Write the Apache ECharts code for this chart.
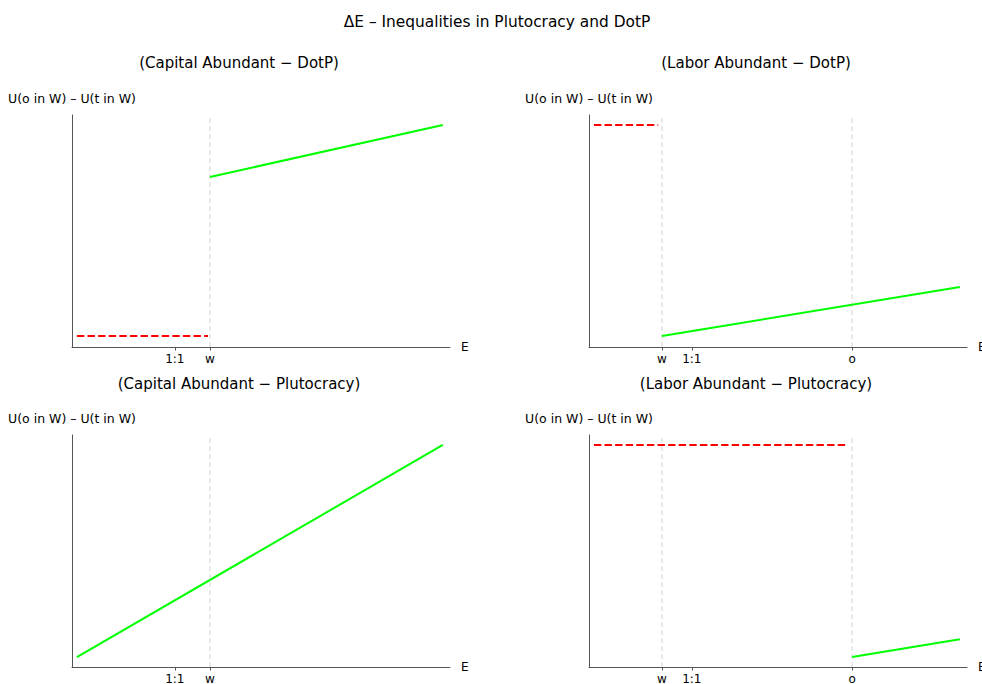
<!DOCTYPE html>
<html>
<head>
<meta charset="utf-8">
<script src="https://cdn.jsdelivr.net/npm/echarts@6/dist/echarts.min.js"></script>
<style>
  html, body { margin: 0; padding: 0; background: #fff; }
  #chart { width: 982px; height: 684px; }
</style>
</head>
<body>
<div id="chart"></div>
<script>
// Tick positions along the endowment axis E (abstract units, 0..10)
const capTickValues = [2.72, 3.65];
const capTickLabels = ['1:1', 'w'];
const labTickValues = [1.93, 2.72, 6.96];
const labTickLabels = ['w', '1:1', 'o'];

// Vertical reference lines (w, o)
const capRefLines = [3.65];
const labRefLines = [1.93, 6.96];

// Capital abundant, DotP
const capDotpRed = [[0.13, 0.47], [3.6, 0.47]];
const capDotpGreen = [[3.65, 7.33], [9.81, 9.57]];
// Labor abundant, DotP
const labDotpRed = [[0.13, 9.57], [1.83, 9.57]];
const labDotpGreen = [[1.93, 0.47], [9.81, 2.59]];
// Capital abundant, Plutocracy
const capPlutoGreen = [[0.13, 0.43], [9.81, 9.57]];
// Labor abundant, Plutocracy
const labPlutoRed = [[0.13, 9.57], [6.85, 9.57]];
const labPlutoGreen = [[6.96, 0.43], [9.81, 1.2]];

const panelTitles = [
  '(Capital Abundant \u2212 DotP)',
  '(Labor Abundant \u2212 DotP)',
  '(Capital Abundant \u2212 Plutocracy)',
  '(Labor Abundant \u2212 Plutocracy)'
];
const mainTitle = '\u0394E \u2013 Inequalities in Plutocracy and DotP';
const yName = 'U(o in W) \u2013 U(t in W)';
const xName = 'E';

const FONT = 'DejaVu Sans';
const AXIS_COLOR = '#555';
const chart = echarts.init(document.getElementById('chart'), null, { renderer: 'svg' });

// Fixed plot boxes; the right-hand "E" is allowed to run past the page edge
const grids = [
  { left: 72, top: 115, width: 378, height: 232, outerBoundsMode: 'none', containLabel: false },
  { left: 589, top: 115, width: 378, height: 232, outerBoundsMode: 'none', containLabel: false },
  { left: 72, top: 435, width: 378, height: 232, outerBoundsMode: 'none', containLabel: false },
  { left: 589, top: 435, width: 378, height: 232, outerBoundsMode: 'none', containLabel: false }
];

function xAxisFor(i, values, labels) {
  return {
    gridIndex: i, type: 'value', min: 0, max: 10,
    name: xName, nameLocation: 'end', nameGap: 11,
    nameTextStyle: { fontFamily: FONT, fontSize: 12, color: '#000', verticalAlign: 'middle' },
    axisLine: { show: true, lineStyle: { color: AXIS_COLOR, width: 1 } },
    axisTick: { show: true, customValues: values, length: 3.5, inside: false, lineStyle: { color: AXIS_COLOR } },
    axisLabel: {
      show: true, customValues: values, margin: 6,
      fontFamily: FONT, fontSize: 12, color: '#000',
      formatter: v => {
        const k = values.findIndex(t => Math.abs(t - v) < 1e-6);
        return k >= 0 ? labels[k] : '';
      }
    },
    splitLine: { show: false }
  };
}

function yAxisFor(i) {
  return {
    gridIndex: i, type: 'value', min: 0, max: 10,
    name: yName, nameLocation: 'end', nameGap: 10,
    nameTextStyle: { fontFamily: FONT, fontSize: 12.5, color: '#000', align: 'center' },
    axisLine: { show: true, lineStyle: { color: AXIS_COLOR, width: 1 } },
    axisTick: { show: false },
    axisLabel: { show: false },
    splitLine: { show: false }
  };
}

function seg(i, data, kind) {
  const style = kind === 'red'
    ? { color: '#ff0000', width: 2, type: [7.4, 3.2] }
    : kind === 'green'
      ? { color: '#00ff00', width: 2, type: 'solid' }
      : { color: '#dcdcdc', width: 1.2, type: [5, 3] };
  return {
    type: 'line', xAxisIndex: i, yAxisIndex: i, data: data,
    showSymbol: false, symbol: 'none', silent: true, animation: false,
    lineStyle: style, z: kind === 'ref' ? 1 : 3
  };
}

function refSeries(i, xs) {
  return xs.map(x => seg(i, [[x, 0], [x, 10]], 'ref'));
}

const series = [].concat(
  refSeries(0, capRefLines),
  refSeries(1, labRefLines),
  refSeries(2, capRefLines),
  refSeries(3, labRefLines),
  [
    seg(0, capDotpRed, 'red'), seg(0, capDotpGreen, 'green'),
    seg(1, labDotpRed, 'red'), seg(1, labDotpGreen, 'green'),
    seg(2, capPlutoGreen, 'green'),
    seg(3, labPlutoRed, 'red'), seg(3, labPlutoGreen, 'green')
  ]
);

const titlePos = [[239, 63], [756, 63], [239, 384], [756, 384]];
const graphic = [{
  type: 'text', x: 497, y: 22,
  style: { text: mainTitle, fontFamily: FONT, fontSize: 15.4, fill: '#000', align: 'center', verticalAlign: 'middle' }
}].concat(panelTitles.map((t, i) => ({
  type: 'text', x: titlePos[i][0], y: titlePos[i][1],
  style: { text: t, fontFamily: FONT, fontSize: 15, fill: '#000', align: 'center', verticalAlign: 'middle' }
})));

chart.setOption({
  animation: false,
  backgroundColor: '#fff',
  grid: grids,
  xAxis: [
    xAxisFor(0, capTickValues, capTickLabels),
    xAxisFor(1, labTickValues, labTickLabels),
    xAxisFor(2, capTickValues, capTickLabels),
    xAxisFor(3, labTickValues, labTickLabels)
  ],
  yAxis: [yAxisFor(0), yAxisFor(1), yAxisFor(2), yAxisFor(3)],
  series: series,
  graphic: graphic
});
</script>
</body>
</html>
